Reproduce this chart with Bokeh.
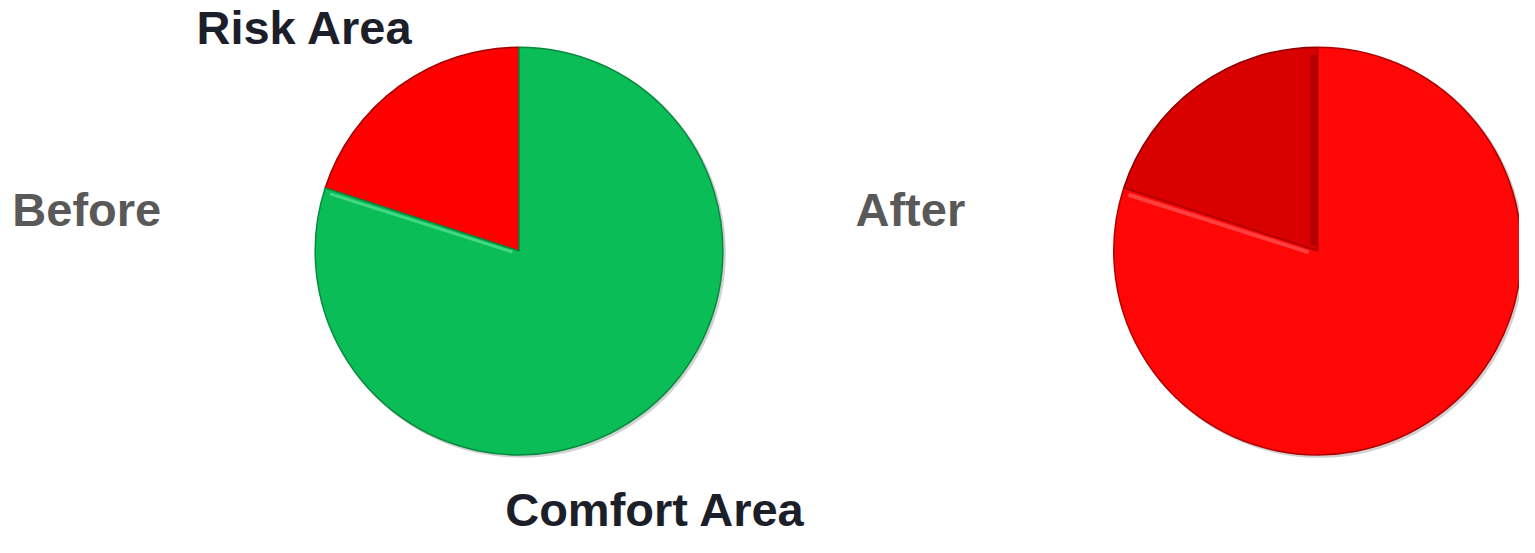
import math
from bokeh.plotting import figure
from bokeh.models import Range1d, ColumnDataSource
from bokeh.core.properties import value
from bokeh.embed import file_html
from bokeh.resources import INLINE

# Data
categories = ["Risk Area", "Comfort Area"]
before_values = [20, 80]
after_values = [20, 80]
side_labels = ["Before", "After"]

W, H = 1519, 537
p = figure(width=W, height=H, output_backend="svg", toolbar_location=None,
           x_range=Range1d(0, 1535), y_range=Range1d(0, 553),
           min_border=0)
p.axis.visible = False
p.grid.visible = False
p.outline_line_color = None
p.background_fill_color = "white"
p.border_fill_color = "white"


def wedges(vals):
    total = sum(vals)
    starts, ends = [], []
    a = math.pi / 2
    for v in vals:
        starts.append(a)
        a = a + 2 * math.pi * v / total
        ends.append(a)
    return starts, ends


def edge_line(cx, cy, ang, off, r0, r1):
    nx, ny = -math.sin(ang), math.cos(ang)
    dx, dy_ = math.cos(ang), math.sin(ang)
    return (cx + nx * off + dx * r0, cy + ny * off + dy_ * r0,
            cx + nx * off + dx * r1, cy + ny * off + dy_ * r1)

R = 206
cy = 553 - 258
cx_before, cx_after = 524, 1331

# soft shadows
p.circle(x=[cx_before + 2, cx_after + 2], y=[cy - 2, cy - 2], radius=R + 1,
         fill_color="#000000", fill_alpha=0.18, line_color=None)

# Before pie
s, e = wedges(before_values)
src = ColumnDataSource(dict(x=[cx_before] * 2, y=[cy] * 2, s=s, e=e,
                            c=["#fe0000", "#0bbd57"], lc=["#a00000", "#078a3f"]))
p.wedge(x="x", y="y", radius=R, start_angle="s", end_angle="e",
        fill_color="c", line_color="lc", line_width=1.5, source=src)
x0, y0, x1, y1 = edge_line(cx_before, cy, e[0], 3, 6, R * 0.97)
p.segment(x0=[x0], y0=[y0], x1=[x1], y1=[y1], line_color="#4fe08e",
          line_width=3, line_alpha=0.8)

# After pie
s2, e2 = wedges(after_values)
src2 = ColumnDataSource(dict(x=[cx_after] * 2, y=[cy] * 2, s=s2, e=e2,
                             c=["#d90000", "#ff0707"], lc=["#8a0000", "#b00000"]))
p.wedge(x="x", y="y", radius=R, start_angle="s", end_angle="e",
        fill_color="c", line_color="lc", line_width=1.5, source=src2)
x0, y0, x1, y1 = edge_line(cx_after, cy, e2[0], 4, 8, R * 0.97)
p.segment(x0=[x0], y0=[y0], x1=[x1], y1=[y1], line_color="#ff4545",
          line_width=4, line_alpha=0.9)
x0, y0, x1, y1 = edge_line(cx_after, cy, s2[0], 4, 6, R * 0.98)
p.segment(x0=[x0], y0=[y0], x1=[x1], y1=[y1], line_color="#9a0000",
          line_width=7, line_alpha=0.6)

# Labels (baseline correction for svg text rendering)
dy = 18
p.text(x=[198, 510], y=[553 - 46 + dy, 553 - 542 + dy], text=categories,
       text_font=value("Liberation Sans"), text_font_style="bold",
       text_font_size="47px", text_color="#1c1f2a",
       text_align="left", text_baseline="alphabetic")
p.text(x=[12, 864], y=[553 - 233 + dy, 553 - 233 + dy], text=side_labels,
       text_font=value("Liberation Sans"), text_font_style="bold",
       text_font_size="47px", text_color="#595959",
       text_align="left", text_baseline="alphabetic")

open("out.html", "w").write(file_html(p, INLINE))
